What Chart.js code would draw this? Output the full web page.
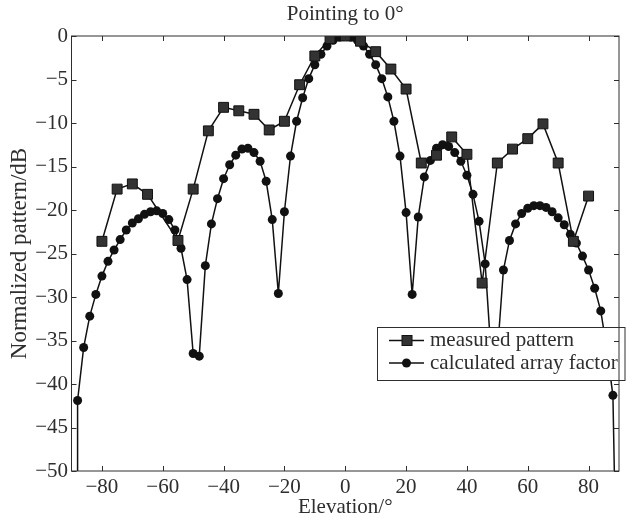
<!DOCTYPE html>
<html>
<head>
<meta charset="utf-8">
<script src="https://cdn.jsdelivr.net/npm/chart.js@4.4.1/dist/chart.umd.min.js"></script>
<style>
  html, body { margin: 0; padding: 0; background: #fff; }
  #wrap { width: 627px; height: 518px; }
</style>
</head>
<body>
<div id="wrap"><canvas id="patternChart"></canvas></div>
<script>
// measured pattern (squares), every 5 deg
const measuredX = [-80, -75, -70, -65, -55, -50, -45, -40, -35, -30, -25, -20, -15, -10, -5, 0,
                   5, 10, 15, 20, 25, 30, 35, 40, 45, 50, 55, 60, 65, 70, 75, 80];
const measuredY = [-23.6, -17.6, -17.0, -18.2, -23.5, -17.6, -10.9, -8.2, -8.6, -9.0, -10.8, -9.8, -5.6, -2.3, -0.3, 0,
                   -0.6, -1.8, -3.8, -6.1, -14.6, -13.7, -11.6, -13.6, -28.4, -14.6, -13.0, -11.8, -10.1, -14.6, -23.6, -18.4];

// calculated array factor (circles), every 2 deg, plus the drop past the axis ends
const calcX = [-88, -88, -86, -84, -82, -80, -78, -76, -74, -72, -70, -68, -66, -64, -62, -60, -58, -56, -54, -52,
               -50, -48, -46, -44, -42, -40, -38, -36, -34, -32, -30, -28, -26, -24, -22, -20, -18, -16, -14,
               -12, -10, -8, -6, -4, -2, 0, 2, 4, 6, 8, 10, 12, 14, 16, 18, 20, 22, 24, 26, 28, 30, 32, 34,
               36, 38, 40, 42, 44, 46, 48, 50, 52, 54, 56, 58, 60, 62, 64, 66, 68, 70, 72, 74, 76, 78, 80,
               82, 84, 86, 88, 89];
const calcY = [-60, -41.9, -35.8, -32.2, -29.7, -27.6, -25.9, -24.6, -23.4, -22.3, -21.5, -21.0, -20.5, -20.2, -20.1,
               -20.4, -21.1, -22.3, -24.4, -28.0, -36.5, -36.8, -26.4, -21.6, -18.7, -16.4, -14.8, -13.7, -13.0,
               -12.9, -13.4, -14.4, -16.7, -21.1, -29.6, -20.2, -13.8, -9.8, -7.1, -4.9, -3.3, -2.1, -1.15, -0.5,
               -0.15, 0, -0.15, -0.5, -1.15, -2.1, -3.3, -4.9, -7.0, -9.8, -13.8, -20.3, -29.7, -20.8, -16.2,
               -14.3, -12.9, -12.5, -12.7, -13.4, -14.4, -16.0, -18.2, -21.3, -26.2, -36.8, -36.5, -26.9, -23.5,
               -21.6, -20.4, -19.8, -19.5, -19.5, -19.7, -20.2, -20.9, -21.7, -22.8, -23.8, -25.3, -26.9, -29.0,
               -31.6, -36.0, -41.3, -60];

const xTicks = [-80, -60, -40, -20, 0, 20, 40, 60, 80];
const legendLabels = ['measured pattern', 'calculated array factor'];

const serif = "'Liberation Serif', 'DejaVu Serif', serif";
const inkColor = '#2e2e2e';

function fmt(v) {
    return v < 0 ? '\u2212' + Math.abs(v) : String(v);
}

// box round the plot with inward ticks on all four sides
const frameAndTicks = {
    id: 'frameAndTicks',
    afterDraw(chart) {
        const { ctx, chartArea: a, scales } = chart;
        ctx.save();
        ctx.strokeStyle = inkColor;
        ctx.lineWidth = 1;
        ctx.strokeRect(a.left, a.top, a.right - a.left, a.bottom - a.top);
        const len = 5;
        ctx.beginPath();
        scales.x.ticks.forEach(t => {
            const px = Math.round(scales.x.getPixelForValue(t.value)) + 0.5;
            ctx.moveTo(px, a.bottom); ctx.lineTo(px, a.bottom - len);
            ctx.moveTo(px, a.top); ctx.lineTo(px, a.top + len);
        });
        scales.y.ticks.forEach(t => {
            const py = Math.round(scales.y.getPixelForValue(t.value)) + 0.5;
            ctx.moveTo(a.left, py); ctx.lineTo(a.left + len, py);
            ctx.moveTo(a.right, py); ctx.lineTo(a.right - len, py);
        });
        ctx.stroke();
        ctx.restore();
    }
};

// legend box drawn over the data, like the original figure
const boxLegend = {
    id: 'boxLegend',
    afterDatasetsDraw(chart) {
        const { ctx } = chart;
        const left = 377.5, top = 327.5, w = 247.5, h = 53;
        ctx.save();
        ctx.fillStyle = '#fff';
        ctx.fillRect(left, top, w, h);
        ctx.strokeStyle = inkColor;
        ctx.lineWidth = 1;
        ctx.strokeRect(left, top, w, h);

        const rows = [top + 13, top + 35.5];
        rows.forEach((y, i) => {
            ctx.strokeStyle = '#111';
            ctx.lineWidth = 1.5;
            ctx.beginPath();
            ctx.moveTo(389, y); ctx.lineTo(424, y);
            ctx.stroke();
            if (i === 0) {
                ctx.fillStyle = '#333';
                ctx.fillRect(402, y - 5, 10, 10);
                ctx.strokeStyle = '#111';
                ctx.lineWidth = 1;
                ctx.strokeRect(402, y - 5, 10, 10);
            } else {
                ctx.fillStyle = '#111';
                ctx.beginPath();
                ctx.arc(406.5, y, 4.5, 0, Math.PI * 2);
                ctx.fill();
            }
            ctx.fillStyle = inkColor;
            ctx.font = '21px ' + serif;
            ctx.textBaseline = 'middle';
            ctx.textAlign = 'left';
            ctx.fillText(legendLabels[i], 430, y);
        });
        ctx.restore();
    }
};

const ctx = document.getElementById('patternChart');
new Chart(ctx, {
    type: 'scatter',
    data: {
        datasets: [{
            label: legendLabels[0],
            data: measuredX.map((x, i) => ({ x: x, y: measuredY[i] })),
            showLine: true,
            borderColor: '#111',
            borderWidth: 1.5,
            tension: 0,
            pointStyle: 'rect',
            pointRadius: 7,
            pointBackgroundColor: '#333',
            pointBorderColor: '#111',
            pointBorderWidth: 1
        }, {
            label: legendLabels[1],
            data: calcX.map((x, i) => ({ x: x, y: calcY[i] })),
            showLine: true,
            borderColor: '#111',
            borderWidth: 1.5,
            tension: 0,
            pointStyle: 'circle',
            pointRadius: 4.5,
            pointBackgroundColor: '#111',
            pointBorderColor: '#111',
            pointBorderWidth: 0
        }]
    },
    options: {
        responsive: true,
        maintainAspectRatio: false,
        animation: false,
        layout: { padding: { left: 0, right: 4, top: 0, bottom: 0 } },
        plugins: {
            legend: { display: false },
            tooltip: { enabled: false },
            title: {
                display: true,
                text: 'Pointing to 0\u00b0',
                fullSize: false,
                color: inkColor,
                font: { family: serif, size: 21, weight: 'normal', lineHeight: 1.2 },
                padding: { top: 2, bottom: 8.8 }
            }
        },
        scales: {
            x: {
                type: 'linear',
                min: -90,
                max: 90,
                afterBuildTicks: function(scale) {
                    scale.ticks = xTicks.map(v => ({ value: v }));
                },
                afterFit: function(scale) { scale.height = 47; },
                grid: { display: false, drawTicks: false },
                border: { display: false },
                ticks: {
                    color: inkColor,
                    padding: 4,
                    maxRotation: 0,
                    autoSkip: false,
                    font: { family: serif, size: 21 },
                    callback: v => fmt(v)
                },
                title: {
                    display: true,
                    text: 'Elevation/\u00b0',
                    color: inkColor,
                    font: { family: serif, size: 21, lineHeight: 1 },
                    padding: { top: 0, bottom: 0 }
                }
            },
            y: {
                min: -50,
                max: 0,
                afterFit: function(scale) { scale.width = 71.5; },
                grid: { display: false, drawTicks: false },
                border: { display: false },
                ticks: {
                    stepSize: 5,
                    color: inkColor,
                    padding: 3.5,
                    autoSkip: false,
                    font: { family: serif, size: 21 },
                    callback: v => fmt(v)
                },
                title: {
                    display: true,
                    text: 'Normalized pattern/dB',
                    color: inkColor,
                    font: { family: serif, size: 23, lineHeight: 1 },
                    padding: { top: 8, bottom: 0 }
                }
            }
        }
    },
    plugins: [frameAndTicks, boxLegend]
});
</script>
</body>
</html>
